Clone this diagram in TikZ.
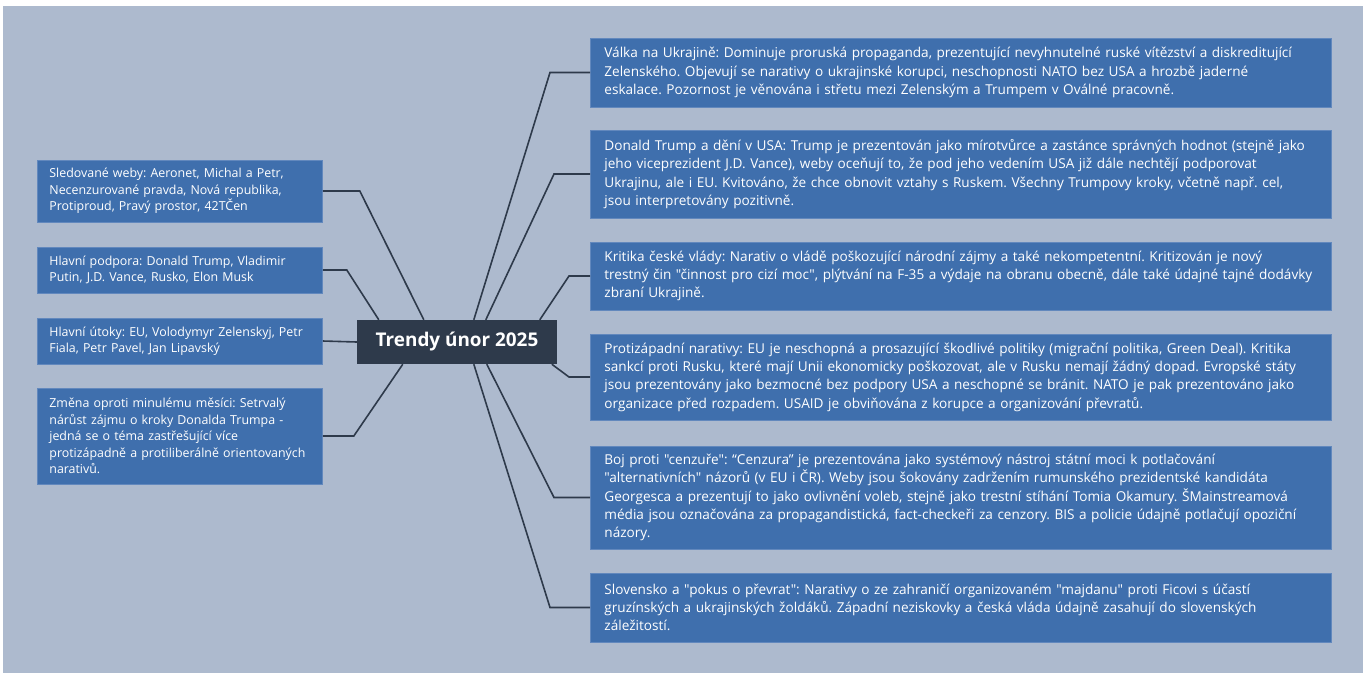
\documentclass[tikz,border=0pt]{standalone}
\usepackage{fontspec}
\setmainfont{Open Sans}[Ligatures=TeXOff]
\frenchspacing
\definecolor{bg}{HTML}{ADBACE}
\definecolor{boxfill}{HTML}{3F6FAD}
\definecolor{boxline}{HTML}{6288BD}
\definecolor{dark}{HTML}{2E3A4B}
\begin{document}
\begin{tikzpicture}[x=1pt,y=-1pt,
  rbox/.style={draw=boxline, line width=0.8pt, fill=boxfill, text=white, anchor=west,
    text width=713pt, inner xsep=14pt, inner ysep=0pt, align=left,
    font=\fontsize{13.6}{18.3}\selectfont},
  lbox/.style={draw=boxline, line width=0.8pt, fill=boxfill, text=white, anchor=west,
    text width=261pt, inner xsep=12pt, inner ysep=0pt, align=left,
    font=\fontsize{12.4}{16.5}\selectfont},
  ctrbox/.style={fill=dark, text=white, minimum width=200pt, minimum height=44pt,
    inner sep=0pt, font=\fontsize{18.9}{22}\selectfont\bfseries},
  conn/.style={draw=dark, line width=1.6pt}]
\useasboundingbox (0,0) rectangle (1363,673);
\fill[bg] (3,6) rectangle (1363,673);

\node[ctrbox] (ctr) at (457,342) {Trendy únor 2025};

\node[rbox, minimum height=69pt] (r1) at (590,72.5) {Válka na Ukrajině: Dominuje proruská propaganda, prezentující nevyhnutelné ruské vítězství a diskreditující\\ Zelenského. Objevují se narativy o ukrajinské korupci, neschopnosti NATO bez USA a hrozbě jaderné\\ eskalace. Pozornost je věnována i střetu mezi Zelenským a Trumpem v Oválné pracovně.};
\node[rbox, minimum height=88pt] (r2) at (590,174) {Donald Trump a dění v USA: Trump je prezentován jako mírotvůrce a zastánce správných hodnot (stejně jako\\ jeho viceprezident J.D. Vance), weby oceňují to, že pod jeho vedením USA již dále nechtějí podporovat\\ Ukrajinu, ale i EU. Kvitováno, že chce obnovit vztahy s Ruskem. Všechny Trumpovy kroky, včetně např. cel,\\ jsou interpretovány pozitivně.};
\node[rbox, minimum height=68pt] (r3) at (590,276) {Kritika české vlády: Narativ o vládě poškozující národní zájmy a také nekompetentní. Kritizován je nový\\ trestný čin "činnost pro cizí moc", plýtvání na F-35 a výdaje na obranu obecně, dále také údajné tajné dodávky\\ zbraní Ukrajině.};
\node[rbox, minimum height=86pt] (r4) at (590,377) {Protizápadní narativy: EU je neschopná a prosazující škodlivé politiky (migrační politika, Green Deal). Kritika\\ sankcí proti Rusku, které mají Unii ekonomicky poškozovat, ale v Rusku nemají žádný dopad. Evropské státy\\ jsou prezentovány jako bezmocné bez podpory USA a neschopné se bránit. NATO je pak prezentováno jako\\ organizace před rozpadem. USAID je obviňována z korupce a organizování převratů.};
\node[rbox, minimum height=103pt] (r5) at (590,497.5) {Boj proti "cenzuře": “Cenzura” je prezentována jako systémový nástroj státní moci k potlačování\\ "alternativních" názorů (v EU i ČR). Weby jsou šokovány zadržením rumunského prezidentské kandidáta\\ Georgesca a prezentují to jako ovlivnění voleb, stejně jako trestní stíhání Tomia Okamury. ŠMainstreamová\\ média jsou označována za propagandistická, fact-checkeři za cenzory. BIS a policie údajně potlačují opoziční\\ názory.};
\node[rbox, minimum height=69pt] (r6) at (590,607.5) {Slovensko a "pokus o převrat": Narativy o ze zahraničí organizovaném "majdanu" proti Ficovi s účastí\\ gruzínských a ukrajinských žoldáků. Západní neziskovky a česká vláda údajně zasahují do slovenských\\ záležitostí.};

\node[lbox, minimum height=62pt] (l1) at (37,191) {Sledované weby: Aeronet, Michal a Petr,\\ Necenzurované pravda, Nová republika,\\ Protiproud, Pravý prostor, 42TČen};
\node[lbox, minimum height=46pt] (l2) at (37,270) {Hlavní podpora: Donald Trump, Vladimir\\ Putin, J.D. Vance, Rusko, Elon Musk};
\node[lbox, minimum height=46pt] (l3) at (37,341) {Hlavní útoky: EU, Volodymyr Zelenskyj, Petr\\ Fiala, Petr Pavel, Jan Lipavský};
\node[lbox, minimum height=96pt] (l4) at (37,436) {Změna oproti minulému měsíci: Setrvalý\\ nárůst zájmu o kroky Donalda Trumpa -\\ jedná se o téma zastřešující více\\ protizápadně a protiliberálně orientovaných\\ narativů.};

\draw[conn] (r1.west) -- ++(-40,0) -- ([xshift=117pt]ctr.north west);
\draw[conn] (r2.west) -- ++(-36,0) -- ([xshift=129pt]ctr.north west);
\draw[conn] (r3.west) -- ++(-21,0) -- ([xshift=183pt]ctr.north west);
\draw[conn] (r4.west) -- ++(-21,0) -- ([xshift=195pt]ctr.south west);
\draw[conn] (r5.west) -- ++(-36,0) -- ([xshift=130pt]ctr.south west);
\draw[conn] (r6.west) -- ++(-40,0) -- ([xshift=117pt]ctr.south west);

\draw[conn] (l1.east) -- ++(37,0) -- ([xshift=67pt]ctr.north west);
\draw[conn] (l2.east) -- ++(24,0) -- ([xshift=22pt]ctr.north west);
\draw[conn] (l3.east) -- (ctr.west);
\draw[conn] (l4.east) -- ++(31,0) -- ([xshift=46pt]ctr.south west);
\end{tikzpicture}
\end{document}
